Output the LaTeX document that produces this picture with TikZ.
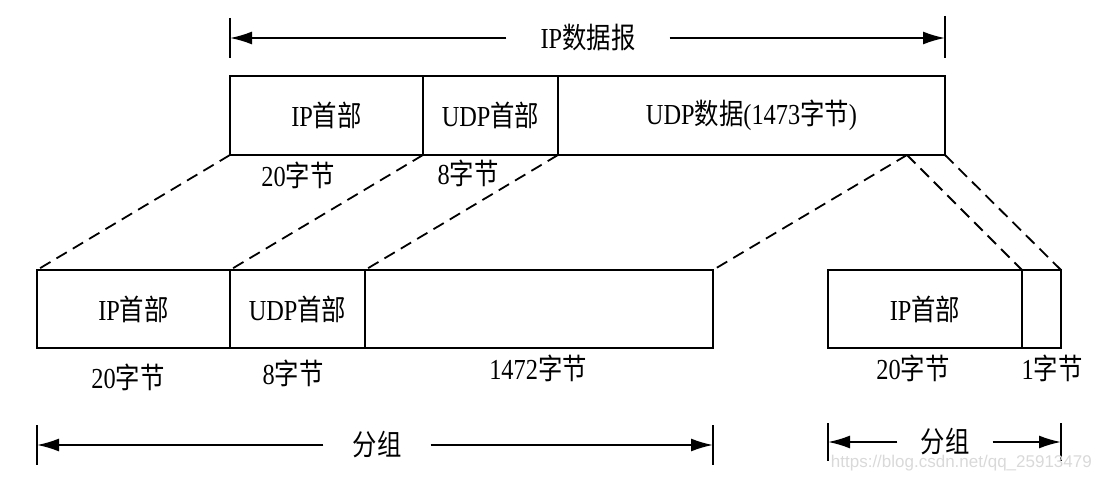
\documentclass[tikz,border=0pt]{standalone}
\usepackage{fontspec}
\setmainfont[FakeStretch=0.84]{Liberation Serif}
\newfontfamily\cjk[FakeStretch=0.84]{Noto Sans CJK SC}
\newfontfamily\wmfont{Liberation Sans}
\usetikzlibrary{arrows.meta}
\newcommand\zh[1]{{\cjk #1}}
\begin{document}
\begin{tikzpicture}[x=1pt,y=-1pt,
  seg/.style={draw, line width=2pt, inner sep=0pt, outer sep=0pt, minimum height=79pt, font=\fontsize{29}{31}\selectfont},
  lbl/.style={inner sep=0pt, font=\fontsize{29}{31}\selectfont},
  dsh/.style={dashed, dash pattern=on 12pt off 7pt, line width=1.8pt},
  dim/.style={line width=1.8pt, -{Latex[length=22pt,width=13pt]}},
  bar/.style={line width=1.8pt}]
\useasboundingbox (0,0) rectangle (1101,481);

% top datagram
\node[seg, minimum width=193pt] (tip) at (326.5,115.5) {IP\zh{首部}};
\node[seg, minimum width=135pt] (tudp) at (490.5,115.5) {UDP\zh{首部}};
\node[seg, minimum width=387pt] (tdata) at (751.5,115.5) {UDP\zh{数据}(1473\zh{字节})};
\node[lbl] (l1) at (298,175) {20\zh{字节}};
\node[lbl] (l2) at (468,173) {8\zh{字节}};

% first fragment
\node[seg, minimum width=193pt, minimum height=78pt] (bip) at (133.5,309) {IP\zh{首部}};
\node[seg, minimum width=135pt, minimum height=78pt] (budp) at (297.5,309) {UDP\zh{首部}};
\node[seg, minimum width=348pt, minimum height=78pt] (bdata) at (539,309) {};
\node[lbl] (l3) at (128,377) {20\zh{字节}};
\node[lbl] (l4) at (293,373) {8\zh{字节}};
\node[lbl] (l5) at (538,368) {1472\zh{字节}};

% second fragment
\node[seg, minimum width=194pt, minimum height=78pt] (rip) at (925,309) {IP\zh{首部}};
\node[seg, minimum width=39pt, minimum height=78pt] (rone) at (1041.5,309) {};
\node[lbl] (l6) at (913,368) {20\zh{字节}};
\node[lbl] (l7) at (1052,368) {1\zh{字节}};

% dashed projections
\coordinate (apex) at (907,155);
\draw[dsh] (tip.south west) -- (bip.north west);
\draw[dsh] (tudp.south west) -- (budp.north west);
\draw[dsh] (tdata.south west) -- (bdata.north west);
\draw[dsh] (apex) -- (bdata.north east);
\draw[dsh] (apex) -- (rone.north west);
\draw[dsh] (tdata.south east) -- (rone.north east);

% dimension: IP datagram
\coordinate (dL) at (230,38);
\coordinate (dR) at (945,38);
\node[lbl, inner xsep=34pt] (dgram) at (588,38) {IP\zh{数据报}};
\draw[bar] ([yshift=20pt]dL) -- ([yshift=-20pt]dL);
\draw[bar] ([yshift=22pt]dR) -- ([yshift=-20pt]dR);
\draw[dim] (dgram) -- (dL);
\draw[dim] (dgram) -- (dR);

% dimension: fragment 1
\coordinate (gL) at (37,445);
\coordinate (gR) at (713,445);
\node[lbl, inner xsep=29pt] (g1) at (377,445) {\zh{分组}};
\draw[bar] ([yshift=20pt]gL) -- ([yshift=-20pt]gL);
\draw[bar] ([yshift=20pt]gR) -- ([yshift=-20pt]gR);
\draw[dim] (g1) -- (gL);
\draw[dim] (g1) -- (gR);

% dimension: fragment 2
\coordinate (hL) at (828,442);
\coordinate (hR) at (1061,442);
\node[lbl, inner xsep=23pt] (g2) at (945,442) {\zh{分组}};
\draw[bar] ([yshift=19pt]hL) -- ([yshift=-19pt]hL);
\draw[bar] ([yshift=19pt]hR) -- ([yshift=-19pt]hR);
\draw[dim] (g2) -- (hL);
\draw[dim] (g2) -- (hR);

% watermark
\node[text=gray!30, inner sep=0pt, anchor=east, font=\wmfont\fontsize{17}{18}\selectfont] (wm) at (1092,463) {https://blog.csdn.net/qq\_25913479};
\end{tikzpicture}
\end{document}
